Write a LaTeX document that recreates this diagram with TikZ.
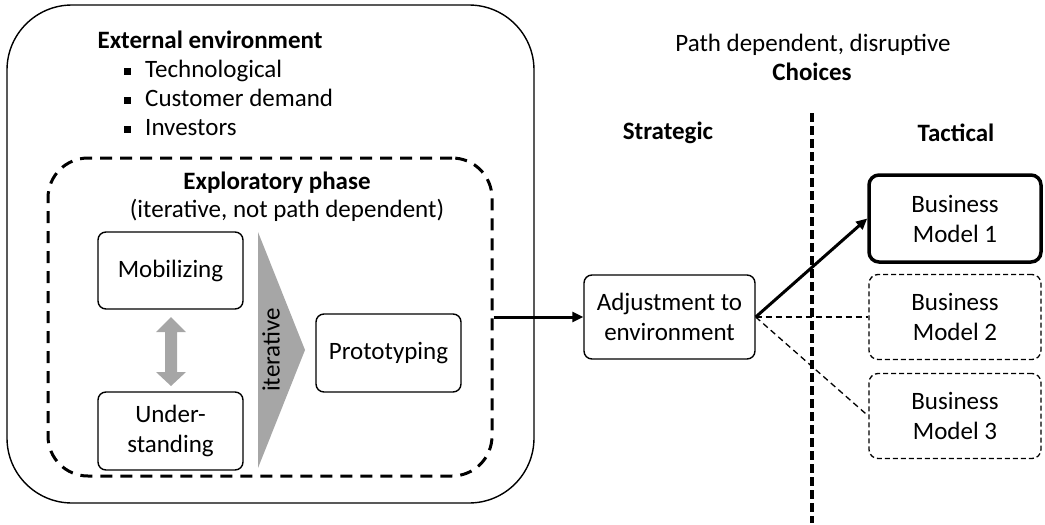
\documentclass[tikz,border=0pt]{standalone}
\usepackage{fontspec}
\setmainfont{Carlito}
\usetikzlibrary{arrows.meta}
\definecolor{arrgray}{HTML}{A6A6A6}
\begin{document}
\begin{tikzpicture}[x=1pt,y=-1pt,
  every node/.style={font=\fontsize{25}{30}\selectfont, inner sep=0pt, align=center},
  bx/.style={draw, line width=1.4pt, rounded corners=8pt},
  bmdash/.style={draw, line width=1.3pt, rounded corners=9pt, dash pattern=on 5pt off 3pt, minimum width=172pt, minimum height=85pt},
  bold/.style={font=\fontsize{25}{30}\selectfont\bfseries},
  thickarrow/.style={line width=3pt, -{Triangle[length=11pt,width=10pt]}},
  thindash/.style={line width=1.3pt, dash pattern=on 6pt off 4pt}
]
\useasboundingbox (0,0) rectangle (1045,525);

% outer box
\node[draw, line width=1.4pt, rounded corners=65pt, minimum width=527pt, minimum height=498pt] (outer) at (270.5,254) {};
% exploratory dashed box
\node[draw, line width=3pt, dash pattern=on 12pt off 8pt, rounded corners=40pt, minimum width=444pt, minimum height=318pt] (expl) at (270,317) {};

% external environment text
\node[bold] (extenv) at (210,40) {External environment};
\node[anchor=base west] (b1) at (145,77) {Technological};
\node[anchor=base west] (b2) at (145,106) {Customer demand};
\node[anchor=base west] (b3) at (145,135) {Investors};
\fill (123.5,67.5) rectangle (130.5,74.5);
\fill (123.5,96.5) rectangle (130.5,103.5);
\fill (123.5,125.5) rectangle (130.5,132.5);

\node[bold] (expltitle) at (277,183) {Exploratory phase};
\node (explsub) at (287,210) {(iterative, not path dependent)};

% inner boxes
\node[bx, minimum width=145pt, minimum height=77pt] (mob) at (170.5,270.5) {Mobilizing};
\node[bx, minimum width=145pt, minimum height=78pt] (und) at (170.5,431) {Under-\\standing};
\node[bx, minimum width=145pt, minimum height=78pt] (proto) at (388.5,353) {Prototyping};

% gray double arrow
\fill[arrgray] (171,317) -- (186,332) -- (177,332) -- (177,372) -- (186,372) -- (171,386)
  -- (156,372) -- (165,372) -- (165,332) -- (156,332) -- cycle;
% gray triangle
\fill[arrgray] (258,232) -- (305,350) -- (258,468) -- cycle;
\node[rotate=90] (iter) at (271,350) {iterative};

% right side texts
\node (pathdep) at (813,45) {Path dependent, disruptive};
\node[bold] (choices) at (812,72) {Choices};
\node[bold] (strat) at (668,133) {Strategic};
\node[bold] (tact) at (956,133) {Tactical};

% vertical divider
\coordinate (vtop) at (812,113);
\coordinate (vbot) at (812,523);
\draw[line width=4pt, dash pattern=on 9pt off 4pt] (vtop) -- (vbot);

% adjustment box
\node[bx, minimum width=171pt, minimum height=84pt] (adj) at (669.5,317) {Adjustment to\\environment};

% business models
\node[draw, line width=3.5pt, rounded corners=10pt, minimum width=172pt, minimum height=87pt] (bm1) at (955,218.5) {Business\\Model 1};
\node[bmdash] (bm2) at (955,317) {Business\\Model 2};
\node[bmdash] (bm3) at (955,416) {Business\\Model 3};

% connectors
\draw[thickarrow] (expl.east) -- (adj.west);
\draw[thickarrow] (adj.east) -- (bm1.west);
\draw[thindash] (adj.east) -- (bm2.west);
\draw[thindash] (adj.east) -- (bm3.west);
\end{tikzpicture}
\end{document}
